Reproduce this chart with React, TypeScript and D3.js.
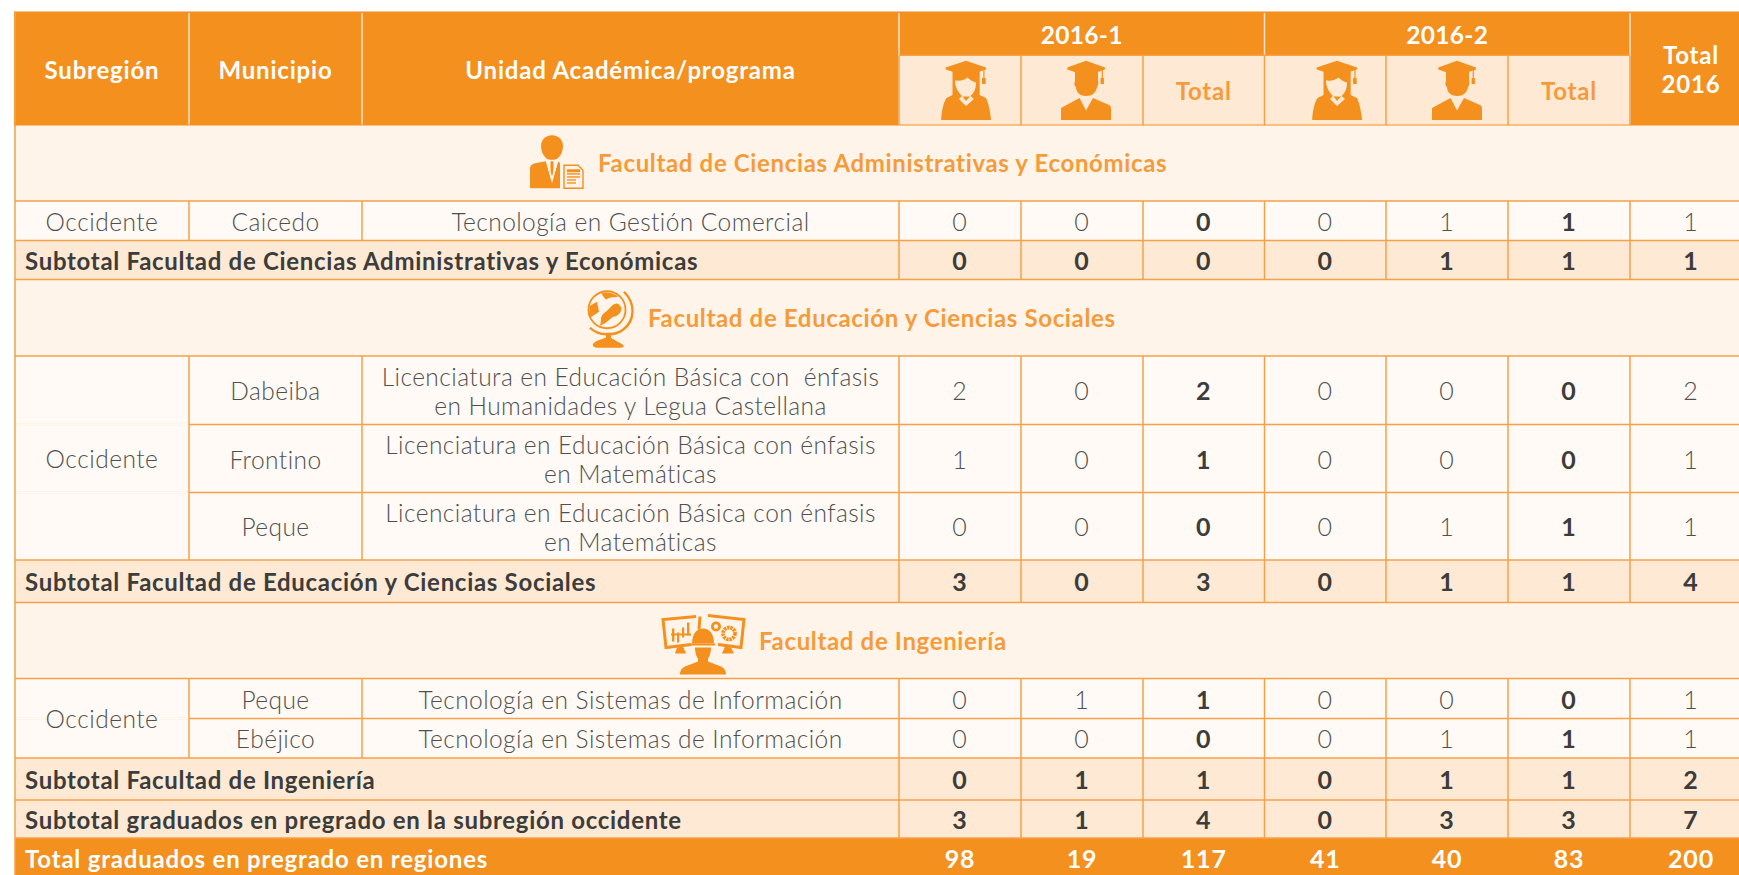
import React from "react";
import * as d3 from "d3";

const semesters = ["2016-1", "2016-2"];
const subtotalFac1 = "Subtotal Facultad de Ciencias Administrativas y Económicas";
const subtotalFac2 = "Subtotal Facultad de Educación y Ciencias Sociales";
const subtotalFac3 = "Subtotal Facultad de Ingeniería";
const subtotalRegion = "Subtotal graduados en pregrado en la subregión occidente";
const grandTotal = "Total graduados en pregrado en regiones";

const rowEdges = [125.5, 201, 240.5, 279.5, 356, 424.5, 492.5, 560, 602.5, 678.5, 718.5, 758, 800, 838, 875];
const colEdges = [15, 189, 362, 899, 1021, 1143, 1264.5, 1386, 1508, 1630, 1752];

type Row = { kind: string; label?: string; muni?: string; prog?: string[]; vals?: number[]; icon?: string };
const rows: Row[] = [
  { kind: "faculty", label: "Facultad de Ciencias Administrativas y Económicas", icon: "admin" },
  { kind: "data", muni: "Caicedo", prog: ["Tecnología en Gestión Comercial"], vals: [0, 0, 0, 0, 1, 1, 1] },
  { kind: "sub", label: subtotalFac1, vals: [0, 0, 0, 0, 1, 1, 1] },
  { kind: "faculty", label: "Facultad de Educación y Ciencias Sociales", icon: "globe" },
  { kind: "data", muni: "Dabeiba", prog: ["Licenciatura en Educación Básica con  énfasis", "en Humanidades y Legua Castellana"], vals: [2, 0, 2, 0, 0, 0, 2] },
  { kind: "data", muni: "Frontino", prog: ["Licenciatura en Educación Básica con énfasis", "en Matemáticas"], vals: [1, 0, 1, 0, 0, 0, 1] },
  { kind: "data", muni: "Peque", prog: ["Licenciatura en Educación Básica con énfasis", "en Matemáticas"], vals: [0, 0, 0, 0, 1, 1, 1] },
  { kind: "sub", label: subtotalFac2, vals: [3, 0, 3, 0, 1, 1, 4] },
  { kind: "faculty", label: "Facultad de Ingeniería", icon: "eng" },
  { kind: "data", muni: "Peque", prog: ["Tecnología en Sistemas de Información"], vals: [0, 1, 1, 0, 0, 0, 1] },
  { kind: "data", muni: "Ebéjico", prog: ["Tecnología en Sistemas de Información"], vals: [0, 0, 0, 0, 1, 1, 1] },
  { kind: "sub", label: subtotalFac3, vals: [0, 1, 1, 0, 1, 1, 2] },
  { kind: "sub", label: subtotalRegion, vals: [3, 1, 4, 0, 3, 3, 7] },
  { kind: "total", label: grandTotal, vals: [98, 19, 117, 41, 40, 83, 200] },
];
const subregionSpans = [[1, 1], [4, 6], [9, 10]];

const ORANGE = "#F4901E";
const LINE = "#F6A048";
const HEAD_LIGHT = "#FEE9D5";
const FAC_BG = "#FFF4EA";
const DATA_BG = "#FFFAF5";
const DARK = "#3C3C3B";
const GREY = "#4F4F4F";
const TITLE = "#F59B3A";
const FONT = "Lato, sans-serif";

const Female = ({ x, y }: { x: number; y: number }) => (
  <g transform={`translate(${x},${y})`} fill={ORANGE}>
    <path d="M0,-29.3 L20,-22.5 L20,-20.5 L0,-14 L-20.3,-20.5 L-20.3,-22.5 Z" />
    <rect x={17.3} y={-21} width={1.2} height={10} />
    <rect x={16} y={-12} width={3.7} height={6} />
    <path d="M-13.5,-19 L13.7,-19 L13.7,5 L20,8 C22.5,13 25,25 25,30 L-24.7,30 C-25,25 -23,13 -19.5,8 L-13.5,5 Z" />
    <path fill={HEAD_LIGHT} d="M-11,-9.5 C-5,-9 -1,-10 1.5,-12.5 C4,-10 7,-8 10,-7.5 C10,-1 8,3 4.5,6 L8,9 L0,16 L-7,9 L-4,6 C-8,2 -11,-3 -11,-9.5 Z" />
    <path d="M-3.5,6.5 L4,6.5 L0,11 Z" />
  </g>
);
const Male = ({ x, y }: { x: number; y: number }) => (
  <g transform={`translate(${x},${y})`} fill={ORANGE}>
    <path d="M0,-29.3 L19,-22.5 L19,-20.5 L0,-14 L-18.7,-20.5 L-18.7,-22.5 Z" />
    <rect x={15.7} y={-21} width={1.2} height={10} />
    <rect x={14.6} y={-12} width={3.3} height={6} />
    <path d="M-11,-18 L12,-18 L12,-9 C13,-7 12,-4 11,-3 C10,3 6,6 0,6 C-5,6 -10,3 -10,-3 C-12,-4 -12,-7 -11,-9 Z" />
    <path d="M-6.5,8 L0,20.5 L7,8 L23,15 C25,16 25,17 25,20 L25,30 L-25,30 L-25,18 Z" />
  </g>
);
const AdminIcon = ({ x, y }: { x: number; y: number }) => (
  <g transform={`translate(${x},${y})`} fill={ORANGE}>
    <path d="M0,-28 C7,-28 11,-23 11,-17 C11,-12 9,-8 6,-5 C3,-3 -3,-3 -6,-5 C-9,-8 -11,-12 -11,-17 C-11,-23 -7,-28 0,-28 Z" />
    <path d="M-6,-2 L0,20 L6,-2 L8,0 L8,25 L-21,25 C-22,25 -22,24 -22,23 L-22,6 C-22,2 -20,1 -17,0 Z" />
    <path d="M-1.4,-2 L1.4,-2 L1.7,8 L0,13 L-1.7,8 Z" fill={ORANGE} />
    <path d="M-6.2,-2 L-0.2,18 L-2,4 L-2,-2 Z M6.2,-2 L0.2,18 L2,4 L2,-2 Z" fill={FAC_BG} />
    <path d="M12,2 L26,2 L31,7 L31,25 L12,25 Z" fill={FAC_BG} stroke={ORANGE} strokeWidth={1.4} />
    {[0, 4, 7, 10, 13].map((d) => <rect key={d} x={15} y={6 + d} width={d > 7 ? 9 : 13} height={d === 0 ? 3 : 1.4} />)}
  </g>
);
const GlobeIcon = ({ x, y }: { x: number; y: number }) => (
  <g transform={`translate(${x},${y})`}>
    <circle cx={0} cy={0} r={18.5} fill="none" stroke={ORANGE} strokeWidth={1.8} />
    <path d="M17,-18 C29,-6 28,11 16,20 C8,26 -8,27 -17,18" fill="none" stroke={ORANGE} strokeWidth={2.4} />
    <g fill={ORANGE}>
      <path d="M-6,-17 C-2,-18 8,-17 11,-13 C6,-12 2,-13 -1,-10 C-3,-12 -4,-14 -6,-17 Z" />
      <path d="M-17,-4 L-10,-8 L-8,2 L-17,8 C-18,4 -18,0 -17,-4 Z" />
      <path d="M2,-1 C5,-5 10,-9 13,-4 C17,-1 12,7 6,7 C3,9 -1,14 -7,16 C-5,10 -8,6 -1,2 Z" />
      <path d="M-1,23 L4,23 L4,29 L-1,29 Z" />
      <path d="M2,27 C7,30 13,33 16,35 C18,37 16,38 13,38 L-8,38 C-13,38 -16,36 -13,33 C-9,30 -4,29 2,27 Z" />
    </g>
  </g>
);
const EngIcon = ({ x, y }: { x: number; y: number }) => (
  <g transform={`translate(${x},${y})`}>
    <g fill="none" stroke={ORANGE} strokeWidth={3}>
      <path d="M-7,-25 L-40,-22 L-37,6 L-12,3" />
      <path d="M-3,-25 L-4,-12" />
      <path d="M5,-26 L41,-22 L38,6 L15,3" />
      <circle cx={26} cy={-8} r={6} strokeWidth={3.8} strokeDasharray="2.4 0.8" />
      <circle cx={13} cy={-15} r={3.6} strokeWidth={2.8} />
    </g>
    <g fill={ORANGE}>
      <rect x={-31} y={-13} width={2.4} height={13} /><rect x={-26} y={-9} width={2.2} height={10} />
      <rect x={-21} y={-14} width={2.2} height={10} /><rect x={-16} y={-19} width={2.4} height={13} />
      <rect x={-32} y={-8} width={20} height={2} />
      <path d="M-26,6 L-20,5 L-17,12 L-28,12 Z" /><path d="M22,5 L28,6 L31,12 L19,12 Z" />
      <path d="M-11,2 C-11,-8 -6,-13 0,-13 C6,-13 11,-8 11,2 Z" />
      <rect x={-12} y={2} width={24} height={2} />
      <path d="M-8,6 L8,6 C8,12 6,16 5,17 L5,20 L18,25 C22,27 23,30 23,33 L-23,33 C-23,30 -22,27 -18,25 L-5,20 L-5,17 C-6,16 -8,12 -8,6 Z" />
    </g>
  </g>
);
const facultyIcons: Record<string, any> = { admin: AdminIcon, globe: GlobeIcon, eng: EngIcon };
const iconX: Record<string, number> = { admin: 552, globe: 607, eng: 703 };
const iconDy: Record<string, number> = { admin: 0, globe: -8, eng: 1 };
const textX: Record<string, number> = { admin: 598, globe: 648, eng: 759 };
const femaleX = [966, 1337];
const maleX = [1086, 1457];

export default function App() {
  const W = 1739, H = 875;
  const X0 = colEdges[0];
  const numCols = d3.range(3, 10);
  const cx = (i: number) => (colEdges[i] + colEdges[i + 1]) / 2;
  const fmt = d3.format("d");

  const headText = (x: number, y: number, t: string) => (
    <text x={x} y={y} textAnchor="middle" fill="#fff" fontSize={24} fontWeight={700} letterSpacing={0.8}>{t}</text>
  );

  return (
    <svg width={W} height={H} style={{ position: "absolute", left: 0, top: 0, fontFamily: FONT }}>
      <rect width={W} height={H} fill="#fff" />
      {/* header */}
      <rect x={X0 - 1} y={11.5} width={W} height={114} fill={ORANGE} />
      <rect x={colEdges[3]} y={55.5} width={colEdges[9] - colEdges[3]} height={70} fill={HEAD_LIGHT} />
      {[1, 2, 3, 6, 9].map((i) => <line key={i} x1={colEdges[i]} x2={colEdges[i]} y1={13} y2={125} stroke="#FDE3CB" strokeWidth={1.5} />)}
      {[4, 5, 7, 8, 6, 3, 9].map((i) => <line key={"h" + i} x1={colEdges[i]} x2={colEdges[i]} y1={56} y2={125} stroke={LINE} strokeWidth={1.5} />)}
      <rect x={colEdges[3]} y={54.5} width={colEdges[9] - colEdges[3]} height={1.5} fill={LINE} />
      <rect x={X0 - 1} y={124.5} width={W} height={2} fill={ORANGE} />
      {headText(cx(0), 79, "Subregión")}
      {headText(cx(1), 79, "Municipio")}
      {headText(cx(2), 79, "Unidad Académica/programa")}
      {semesters.map((s, i) => (
        <text key={s} x={(colEdges[3 + i * 3] + colEdges[6 + i * 3]) / 2} y={44} textAnchor="middle" fill="#fff" fontSize={24.5} fontWeight={700} letterSpacing={0.3}>{s}</text>
      ))}
      {headText(cx(9), 64, "Total")}
      {headText(cx(9), 93, "2016")}
      {[0, 1].map((i) => (
        <g key={i}>
          <Female x={femaleX[i]} y={90} />
          <Male x={maleX[i]} y={90} />
          <text x={cx(5 + i * 3)} y={100} textAnchor="middle" fill={TITLE} fontSize={24} fontWeight={700} letterSpacing={0.8}>Total</text>
        </g>
      ))}
      {/* body backgrounds */}
      {rows.map((r, i) => {
        const y0 = rowEdges[i], y1 = rowEdges[i + 1];
        const bg = r.kind === "faculty" ? FAC_BG : r.kind === "data" ? DATA_BG : r.kind === "sub" ? HEAD_LIGHT : ORANGE;
        return <rect key={i} x={X0} y={y0} width={W} height={y1 - y0} fill={bg} />;
      })}
      {/* grid lines */}
      {rowEdges.slice(1, -1).map((y, i) => (
        <line key={i} x1={X0} x2={W} y1={y} y2={y} stroke={LINE} strokeWidth={1.6} />
      ))}
      {rows.map((r, i) => {
        if (r.kind === "faculty" || r.kind === "total") return null;
        const y0 = rowEdges[i], y1 = rowEdges[i + 1];
        const cols = r.kind === "data" ? d3.range(1, 10) : d3.range(3, 10);
        return cols.map((c) => (
          <line key={i + "-" + c} x1={colEdges[c]} x2={colEdges[c]} y1={y0} y2={y1} stroke={LINE} strokeWidth={1.5} />
        ));
      })}
      <line x1={X0} x2={X0} y1={11.5} y2={H} stroke={LINE} strokeWidth={1.5} />
      {subregionSpans.flatMap(([a, b]) => d3.range(a, b).map((k) => (
        <line key={"m" + k} x1={X0 + 0.8} x2={colEdges[1] - 0.8} y1={rowEdges[k + 1]} y2={rowEdges[k + 1]} stroke={DATA_BG} strokeWidth={2.4} />
      )))}
      {/* body text */}
      {rows.map((r, i) => {
        const y0 = rowEdges[i], y1 = rowEdges[i + 1], my = (y0 + y1) / 2;
        const valueFill = r.kind === "total" ? "#fff" : DARK;
        const dy = r.kind === "total" ? 11 : 10;
        if (r.kind === "faculty") {
          const Icon = facultyIcons[r.icon!];
          return (
            <g key={i}>
              <Icon x={iconX[r.icon!]} y={my + iconDy[r.icon!]} />
              <text x={textX[r.icon!]} y={my + 9} fill={TITLE} fontSize={24} fontWeight={700} letterSpacing={0.65}>{r.label}</text>
            </g>
          );
        }
        return (
          <g key={i}>
            {r.kind === "data" && (
              <g fontWeight={300} fill={GREY} fontSize={24.5} letterSpacing={0.44} textAnchor="middle">
                <text x={cx(1)} y={my + 10}>{r.muni}</text>
                {r.prog!.map((p, k) => (
                  <text key={k} x={cx(2)} y={my + 10 + (k - (r.prog!.length - 1) / 2) * 29} xmlSpace="preserve">{p}</text>
                ))}
              </g>
            )}
            {r.kind !== "data" && <text x={25} y={my + dy} fontSize={24} fontWeight={700} letterSpacing={r.kind === "total" ? 0.8 : 0.7} fill={valueFill}>{r.label}</text>}
            {r.vals!.map((v, k) => {
              const bold = r.kind !== "data" || k === 2 || k === 5;
              return (
                <text key={k} x={cx(numCols[k])} y={my + dy} textAnchor="middle" fontSize={25} letterSpacing={0.8}
                  fontWeight={bold ? 700 : 300} fill={r.kind === "data" && !bold ? GREY : valueFill}>{fmt(v)}</text>
              );
            })}
          </g>
        );
      })}
      {subregionSpans.map(([a, b]) => (
        <text key={a} x={cx(0)} y={(rowEdges[a] + rowEdges[b + 1]) / 2 + 10} textAnchor="middle" fontSize={24.5} letterSpacing={0.5} fontWeight={300} fill={GREY}>Occidente</text>
      ))}
    </svg>
  );
}
